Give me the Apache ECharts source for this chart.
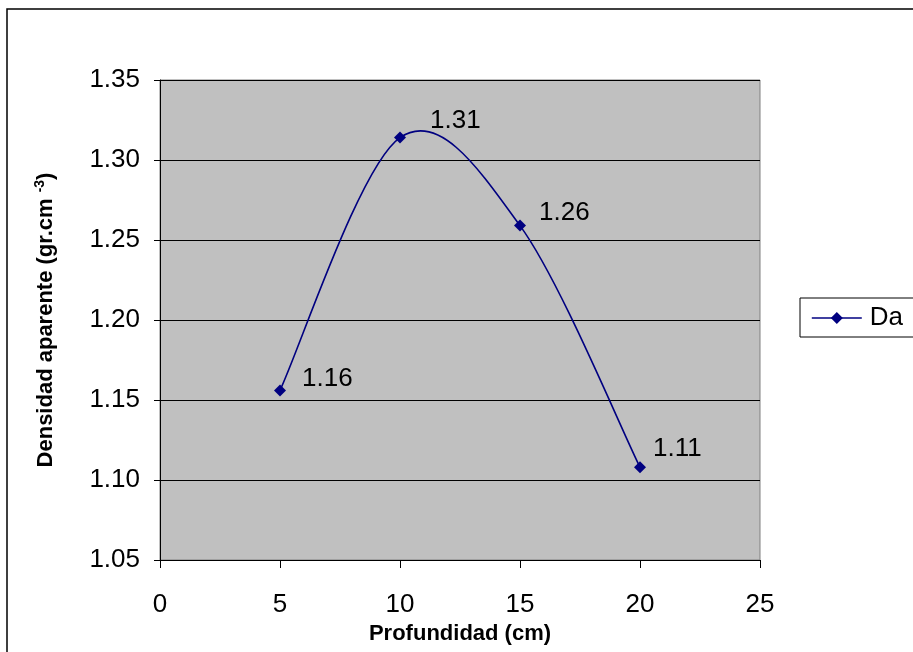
<!DOCTYPE html>
<html>
<head>
<meta charset="utf-8">
<script src="https://cdn.jsdelivr.net/npm/echarts@6/dist/echarts.min.js"></script>
<style>html,body{margin:0;padding:0;background:#fff;}#c{width:913px;height:652px;}</style>
</head>
<body>
<div id="c"></div>
<script>
const depths = [5, 10, 15, 20];
const density = [1.156, 1.314, 1.259, 1.108];
const seriesName = 'Da';
const xTitle = 'Profundidad (cm)';
const yTitle = 'Densidad aparente (gr.cm {sup|-3})';

// label style offsets (presentation only)
const labelOffsets = [[11, -12], [19, -17], [8, -13], [2, -18]];

const FONT = 'Liberation Sans, Arial, sans-serif';
const NAVY = '#000080';

// Excel-style smoothed segment between point i and i+1 (Catmull-Rom style bezier)
function renderSeg(params, api) {
  const i = params.dataIndex;
  const n = depths.length;
  if (i >= n - 1) return null;
  const P = j => api.coord([depths[Math.max(0, Math.min(n - 1, j))], density[Math.max(0, Math.min(n - 1, j))]]);
  const p0 = P(i - 1), p1 = P(i), p2 = P(i + 1), p3 = P(i + 2);
  return {
    type: 'bezierCurve',
    shape: {
      x1: p1[0], y1: p1[1], x2: p2[0], y2: p2[1],
      cpx1: p1[0] + (p2[0] - p0[0]) / 6, cpy1: p1[1] + (p2[1] - p0[1]) / 6,
      cpx2: p2[0] - (p3[0] - p1[0]) / 6, cpy2: p2[1] - (p3[1] - p1[1]) / 6
    },
    style: {stroke: NAVY, lineWidth: 1.6, fill: null}
  };
}

const chart = echarts.init(document.getElementById('c'));
chart.setOption({
  animation: false,
  backgroundColor: '#fff',
  graphic: [{
    type: 'rect', shape: {x: 7, y: 9, width: 920, height: 660},
    style: {fill: 'none', stroke: '#000', lineWidth: 1.5}, z: -1
  }],
  grid: {left: 160, right: 153, top: 80, bottom: 92, show: true,
         backgroundColor: '#C0C0C0', borderColor: '#808080', borderWidth: 1},
  legend: {
    show: true, left: 800, top: 298, orient: 'vertical',
    data: [seriesName], itemWidth: 50, itemHeight: 15,
    borderColor: '#000', borderWidth: 1, borderRadius: 0, padding: [7, 40, 6, 11],
    lineStyle: {color: NAVY, width: 1.6, opacity: 1},
    itemStyle: {color: NAVY},
    textStyle: {fontFamily: FONT, fontSize: 26, color: '#000', padding: [0, 0, 0, 3]}
  },
  xAxis: {
    type: 'value', min: 0, max: 25, interval: 5,
    name: xTitle, nameLocation: 'middle', nameGap: 62,
    nameTextStyle: {fontFamily: FONT, fontWeight: 'bold', fontSize: 22, color: '#000'},
    axisLine: {show: true, onZero: false, lineStyle: {color: '#000', width: 1}},
    axisTick: {show: true, length: 8, lineStyle: {color: '#000'}},
    axisLabel: {fontFamily: FONT, fontSize: 26, color: '#000', margin: 32},
    splitLine: {show: false}
  },
  yAxis: {
    type: 'value', min: 1.05, max: 1.35, interval: 0.05,
    name: yTitle, nameLocation: 'middle', nameGap: 101, nameRotate: 90,
    nameTextStyle: {fontFamily: FONT, fontWeight: 'bold', fontSize: 22, color: '#000',
      rich: {sup: {fontFamily: FONT, fontWeight: 'bold', fontSize: 14, color: '#000', padding: [0, 0, 12, 0]}}},
    axisLine: {show: true, lineStyle: {color: '#000', width: 1}},
    axisTick: {show: true, length: 6, lineStyle: {color: '#000'}},
    axisLabel: {fontFamily: FONT, fontSize: 26, color: '#000', margin: 20,
      formatter: v => v.toFixed(2)},
    splitLine: {show: true, lineStyle: {color: '#000', width: 1}}
  },
  series: [{
    name: 'curve', type: 'custom', renderItem: renderSeg,
    data: depths.map((d, i) => [d, density[i]]), z: 2, silent: true
  }, {
    name: seriesName, type: 'line', smooth: false,
    data: depths.map((d, i) => ({
      value: [d, density[i]],
      label: {offset: labelOffsets[i]}
    })),
    symbol: 'diamond', symbolSize: 12, z: 3,
    lineStyle: {color: NAVY, width: 1.5, opacity: 0},
    itemStyle: {color: NAVY},
    label: {show: true, position: 'right',
      fontFamily: FONT, fontSize: 26, color: '#000',
      formatter: p => p.value[1].toFixed(2)}
  }]
});
</script>
</body>
</html>
